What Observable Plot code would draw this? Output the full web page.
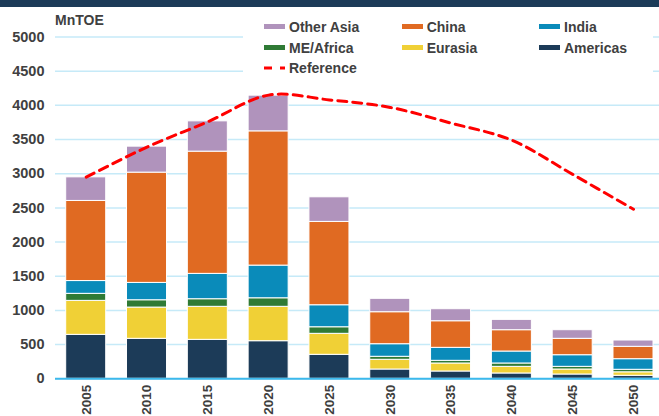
<!DOCTYPE html>
<html>
<head>
<meta charset="utf-8">
<script src="https://cdn.jsdelivr.net/npm/d3@7"></script>
<script src="https://cdn.jsdelivr.net/npm/@observablehq/plot@0.6"></script>
<style>
  html, body { margin: 0; padding: 0; background: #ffffff; }
  body { width: 659px; height: 416px; position: relative; overflow: hidden; font-family: "Liberation Sans", Arial, sans-serif; }
  #band { height: 7px; background: #1c3b58; }
  #unit { position: absolute; left: 55px; top: 12px; font-size: 14px; font-weight: bold; color: #404040; }
  #legend { position: absolute; left: 243px; top: 9px; width: 410px; height: 72px; background: #ffffff; }
  .item { position: absolute; font-size: 14px; font-weight: bold; color: #404040; line-height: 16px; white-space: nowrap; }
  .sw { position: absolute; width: 21px; height: 5px; }
</style>
</head>
<body>
<div id="band"></div>
<div id="chart"></div>
<div id="unit">MnTOE</div>
<div id="legend"></div>
<script>
// ---- data ----
const years = ["2005", "2010", "2015", "2020", "2025", "2030", "2035", "2040", "2045", "2050"];
const seriesNames = ["Americas", "Eurasia", "ME/Africa", "India", "China", "Other Asia"];
const seriesColors = ["#1c3b58", "#f0d036", "#2f7a35", "#0a8bba", "#e06a22", "#b093bc"];
const americas  = [643, 585, 570, 550, 351, 136, 107, 78, 63, 44];
const eurasia   = [497, 457, 483, 503, 307, 142, 117, 97, 73, 51];
const meAfrica  = [103, 107, 111, 125, 96, 44, 39, 49, 39, 37];
const india     = [187, 254, 371, 478, 322, 184, 190, 175, 170, 155];
const china     = [1172, 1613, 1788, 1964, 1219, 468, 389, 312, 240, 181];
const otherAsia = [345, 380, 443, 522, 360, 196, 176, 151, 126, 92];
const reference = [2950, 3390, 3760, 4150, 4080, 3970, 3740, 3490, 2990, 2480];
const yTicks = [0, 500, 1000, 1500, 2000, 2500, 3000, 3500, 4000, 4500, 5000];

const seriesValues = [americas, eurasia, meAfrica, india, china, otherAsia];
const table = seriesNames.flatMap((s, i) => years.map((y, j) => ({year: y, series: s, value: seriesValues[i][j]})));
const refTable = years.map((y, j) => ({year: y, value: reference[j]}));

const chart = Plot.plot({
  width: 659,
  height: 409,
  marginTop: 29.5,
  marginBottom: 37.7,
  marginLeft: 55,
  marginRight: 0,
  style: {fontFamily: "Liberation Sans, Arial, sans-serif", fontSize: "14px", background: "transparent", overflow: "visible"},
  x: {domain: years, range: [55.3, 663.4], paddingInner: 0.342, paddingOuter: 0.171, round: false},
  y: {domain: [0, 5000]},
  color: {domain: seriesNames, range: seriesColors},
  marks: [
    Plot.gridY(yTicks, {stroke: "#c6eaf8", strokeOpacity: 1, strokeWidth: 1.5}),
    Plot.barY(table, {x: "year", y: "value", fill: "series", stroke: "#ffffff", strokeWidth: 1, order: null}),
    Plot.ruleY([0], {stroke: "#3cb9ec", strokeWidth: 2}),
    Plot.line(refTable, {x: "year", y: "value", stroke: "#ff0000", strokeWidth: 3, strokeDasharray: "9,6", curve: "catmull-rom"}),
    Plot.axisY(yTicks, {tickSize: 0, tickPadding: 11, fontWeight: "bold", fontSize: 14.5, fill: "#404040", label: null, tickFormat: d => String(d)}),
    Plot.axisX({tickRotate: -90, tickSize: 0, tickPadding: 6, fontWeight: "bold", fontSize: 13.5, fill: "#404040", label: null})
  ]
});
document.getElementById("chart").appendChild(chart);

// legend (coords relative to legend box at left 243, top 9)
const legend = document.getElementById("legend");
const colX = [21, 158.7, 296];
const rowY = [17.7, 38.7, 59.3];
const entries = [
  ["Other Asia", 0, 0], ["China", 1, 0], ["India", 2, 0],
  ["ME/Africa", 0, 1], ["Eurasia", 1, 1], ["Americas", 2, 1]
];
for (const [name, c, r] of entries) {
  const sw = document.createElement("div");
  sw.className = "sw";
  sw.style.left = colX[c] + "px";
  sw.style.top = (rowY[r] - 2.5) + "px";
  sw.style.background = seriesColors[seriesNames.indexOf(name)];
  legend.appendChild(sw);
  const t = document.createElement("div");
  t.className = "item";
  t.style.left = (colX[c] + 25) + "px";
  t.style.top = (rowY[r] - 8) + "px";
  t.textContent = name;
  legend.appendChild(t);
}
const refSw = document.createElementNS("http://www.w3.org/2000/svg", "svg");
refSw.setAttribute("width", "21");
refSw.setAttribute("height", "4");
refSw.style.position = "absolute";
refSw.style.left = colX[0] + "px";
refSw.style.top = (rowY[2] - 2) + "px";
refSw.innerHTML = '<line x1="0" y1="2" x2="21" y2="2" stroke="#ff0000" stroke-width="3" stroke-dasharray="8,8"/>';
legend.appendChild(refSw);
const rt = document.createElement("div");
rt.className = "item";
rt.style.left = (colX[0] + 25) + "px";
rt.style.top = (rowY[2] - 8) + "px";
rt.textContent = "Reference";
legend.appendChild(rt);
</script>
</body>
</html>
